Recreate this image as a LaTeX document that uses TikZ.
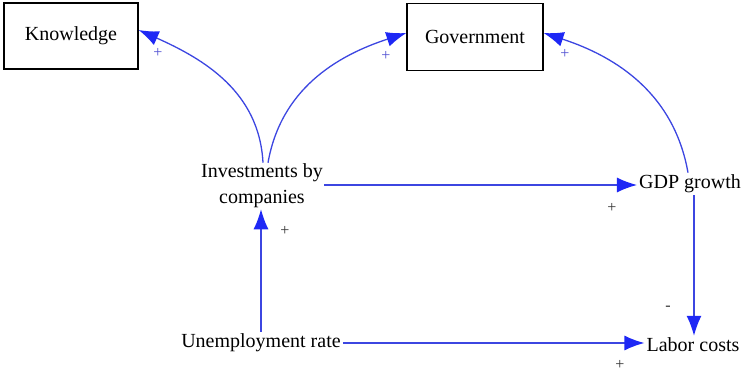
\documentclass[tikz,border=0pt]{standalone}
\usepackage{fontspec}
\setmainfont{Liberation Serif}
\usetikzlibrary{arrows.meta}
\definecolor{linkblue}{RGB}{60,70,225}
\definecolor{tipblue}{RGB}{30,40,245}
\definecolor{signblue}{RGB}{80,80,210}
\definecolor{signgray}{RGB}{50,50,50}
\begin{document}
\begin{tikzpicture}[x=1pt,y=1pt,
  every node/.style={font=\fontsize{20}{26}\selectfont, inner sep=2pt},
  boxnode/.style={draw=black, line width=1.2pt, minimum width=134pt, minimum height=66pt},
  varnode/.style={align=center},
  link/.style={draw=linkblue, line width=1.3pt, -{Latex[length=20pt,width=15pt,color=tipblue]}},
  signtop/.style={font=\fontsize{16}{16}\selectfont, text=signblue, inner sep=0pt},
  signlow/.style={font=\fontsize{16}{16}\selectfont, text=signgray, inner sep=0pt}]
\useasboundingbox (0,0) rectangle (742,372);
\node[boxnode] (know) at (71,336) {Knowledge};
\node[boxnode, minimum width=136pt, minimum height=67pt] (gov) at (475,335) {Government};
\node[varnode, inner sep=1pt] (inv) at (262,186) {Investments by\\companies};
\node[varnode] (gdp) at (690,188) {GDP growth};
\node[varnode] (lab) at (693,27) {Labor costs};
\node[varnode] (unemp) at (261,29) {Unemployment rate};

\draw[link] (unemp.north) -- (unemp.north |- inv.south);
\draw[link] ([yshift=1pt]inv.east) -- ([yshift=1pt]inv.east -| gdp.west);
\draw[link] (unemp.east) -- (unemp.east -| lab.west);
\draw[link] ([xshift=4pt]gdp.south) -- ([xshift=4pt]gdp.south |- lab.north);
\draw[link] ([xshift=1pt]inv.north) to[out=93, in=-24] ([yshift=6pt]know.east);
\draw[link] ([xshift=6pt]inv.north) to[out=80, in=198] ([yshift=4pt]gov.west);
\draw[link] ([xshift=-2pt]gdp.north) to[out=100, in=-18] ([yshift=4pt]gov.east);

\node[signtop] (s1) at (158,319) {+};
\node[signtop] (s2) at (386,316) {+};
\node[signtop] (s3) at (565,318) {+};
\node[signlow] (s4) at (285,141) {+};
\node[signlow] (s5) at (612,164) {+};
\node[signlow] (s6) at (620,7) {+};
\node[signlow] (s7) at (668,64) {-};
\end{tikzpicture}
\end{document}
